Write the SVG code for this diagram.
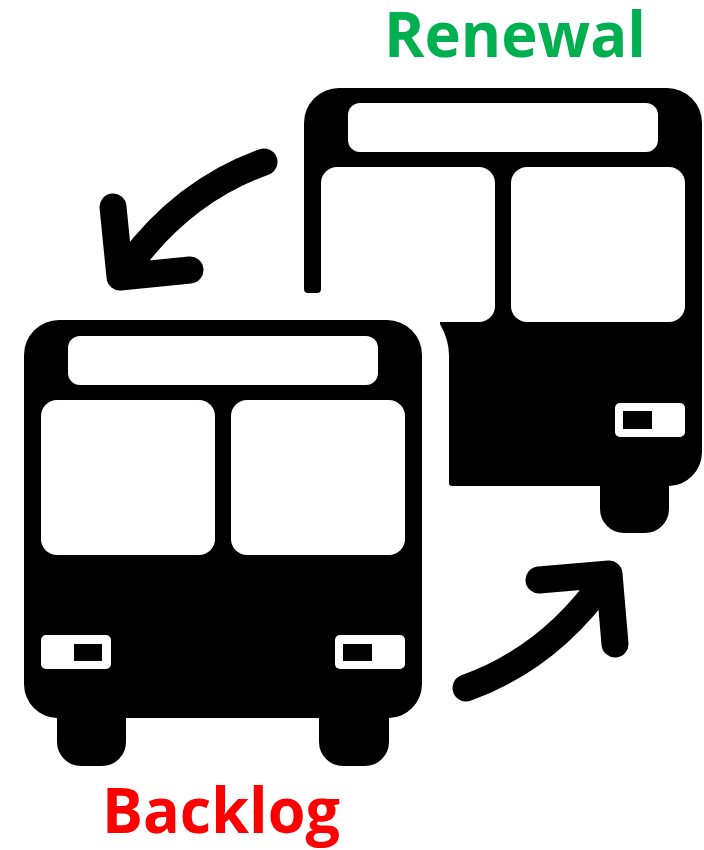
<svg xmlns="http://www.w3.org/2000/svg" width="704" height="850" viewBox="0 0 704 850">
<style>
.k{fill:#000}
.w{fill:#fff}
.a{fill:none;stroke:#000;stroke-width:27;stroke-linecap:round;stroke-linejoin:round}
.t{font-family:"Open Sans","Liberation Sans",sans-serif;font-weight:700;font-size:63px}
</style>
<rect width="704" height="850" fill="#fff"/>
<g id="bus-renewal">
<path class="k" d="M304 288V123A35 35 0 0 1 339 88H667A35 35 0 0 1 702 123V452A34 34 0 0 1 669 486V509A24 24 0 0 1 645 533H624A24 24 0 0 1 600 509V486H452A3 3 0 0 1 449 483V355Q449 340 440 324V322H479A16 16 0 0 0 495 306V183A16 16 0 0 0 479 167H337A16 16 0 0 0 321 183V289A4 4 0 0 1 317 293H308A4 4 0 0 1 304 289Z"/>
<rect class="w" x="348" y="103" width="310" height="49" rx="12"/>
<rect class="w" x="511" y="167" width="174" height="155" rx="16"/>
<rect class="w" x="615" y="403" width="70" height="34" rx="5"/>
<rect class="k" x="623" y="411" width="29" height="18"/>
</g>
<g id="bus-backlog">
<path class="k" d="M24 355A35 35 0 0 1 59 320H387A35 35 0 0 1 422 355V684A34 34 0 0 1 389 718V742A24 24 0 0 1 365 766H343A24 24 0 0 1 319 742V718H126V742A24 24 0 0 1 102 766H81A24 24 0 0 1 57 742V718A34 34 0 0 1 24 684Z"/>
<rect class="w" x="68" y="336" width="310" height="49" rx="12"/>
<rect class="w" x="41" y="400" width="174" height="155" rx="16"/>
<rect class="w" x="231" y="400" width="174" height="155" rx="16"/>
<rect class="w" x="41" y="635" width="70" height="34" rx="5"/>
<rect class="k" x="74" y="644" width="28" height="17"/>
<rect class="w" x="335" y="635" width="70" height="34" rx="5"/>
<rect class="k" x="343" y="644" width="29" height="17"/>
</g>
<g id="connectors">
<path class="a" d="M264 162Q180 192 124 272M113 207L120 277L190 270"/>
<path class="a" d="M466 688Q550 658 606 578M539 580L609 574L615 644"/>
</g>
<g id="label-renewal"><text class="t" x="384" y="57" fill="#00B050" textLength="262" lengthAdjust="spacingAndGlyphs">Renewal</text></g>
<g id="label-backlog"><text class="t" x="102" y="832.5" fill="#FF0000" textLength="238" lengthAdjust="spacingAndGlyphs">Backlog</text></g>
</svg>
